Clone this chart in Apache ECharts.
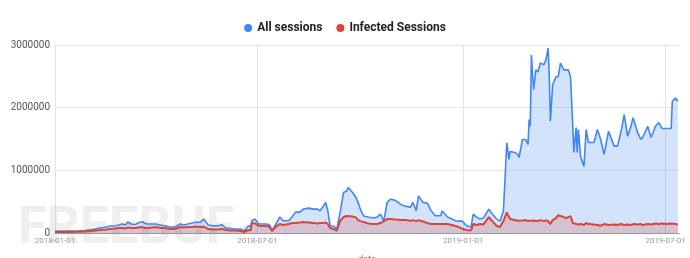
<!DOCTYPE html>
<html>
<head>
<meta charset="utf-8">
<script src="https://cdn.jsdelivr.net/npm/echarts@6/dist/echarts.min.js"></script>
<style>
html,body{margin:0;padding:0;background:#fff;}
#chart{width:690px;height:258px;}
</style>
</head>
<body>
<div id="chart"></div>
<script>
const dates = [
'2018-01-01','2018-01-07','2018-01-14','2018-01-22','2018-01-28','2018-02-03','2018-02-10','2018-02-16','2018-02-19','2018-02-24',
'2018-02-27','2018-03-02','2018-03-05','2018-03-07','2018-03-10','2018-03-14','2018-03-16','2018-03-20','2018-03-23','2018-03-25',
'2018-03-29','2018-04-01','2018-04-05','2018-04-09','2018-04-14','2018-04-18','2018-04-23','2018-04-26','2018-04-30','2018-05-04',
'2018-05-06','2018-05-11','2018-05-14','2018-05-18','2018-05-22','2018-05-27','2018-05-30','2018-06-03','2018-06-07','2018-06-11',
'2018-06-16','2018-06-19','2018-06-23','2018-06-25','2018-06-26','2018-06-29','2018-07-02','2018-07-05','2018-07-09','2018-07-12',
'2018-07-14','2018-07-18','2018-07-21','2018-07-24','2018-07-29','2018-08-01','2018-08-04','2018-08-08','2018-08-11','2018-08-16',
'2018-08-20','2018-08-24','2018-08-26','2018-08-29','2018-08-31','2018-09-02','2018-09-04','2018-09-07','2018-09-10','2018-09-13',
'2018-09-16','2018-09-19','2018-09-20','2018-09-24','2018-09-27','2018-09-29','2018-10-01','2018-10-04','2018-10-08','2018-10-13',
'2018-10-16','2018-10-19','2018-10-22','2018-10-25','2018-10-28','2018-11-01','2018-11-06','2018-11-10','2018-11-15','2018-11-17',
'2018-11-20','2018-11-22','2018-11-26','2018-11-30','2018-12-03','2018-12-07','2018-12-12','2018-12-13','2018-12-18','2018-12-22',
'2018-12-25','2018-12-28','2018-12-30','2019-01-01','2019-01-04','2019-01-08','2019-01-10','2019-01-13','2019-01-16','2019-01-19',
'2019-01-24','2019-01-27','2019-01-31','2019-02-03','2019-02-06','2019-02-09','2019-02-11','2019-02-12','2019-02-16','2019-02-19',
'2019-02-20','2019-02-23','2019-02-26','2019-02-28','2019-03-01','2019-03-02','2019-03-03','2019-03-05','2019-03-07','2019-03-09',
'2019-03-11','2019-03-14','2019-03-16','2019-03-18','2019-03-19','2019-03-20','2019-03-22','2019-03-25','2019-03-27','2019-03-29',
'2019-04-01','2019-04-03','2019-04-05','2019-04-07','2019-04-09','2019-04-10','2019-04-12','2019-04-13','2019-04-14','2019-04-16',
'2019-04-19','2019-04-21','2019-04-23','2019-04-28','2019-05-01','2019-05-04','2019-05-07','2019-05-11','2019-05-16','2019-05-19',
'2019-05-22','2019-05-25','2019-05-28','2019-05-31','2019-06-02','2019-06-06','2019-06-09','2019-06-11','2019-06-15','2019-06-18',
'2019-06-22','2019-06-25','2019-06-28','2019-07-02','2019-07-06','2019-07-07','2019-07-10','2019-07-12'
];
const allSessions = [
32000,32000,32000,35000,40000,56000,79000,95000,111000,116000,
127000,143000,127000,175000,143000,135000,159000,179000,151000,143000,
143000,143000,127000,116000,95000,95000,143000,127000,143000,159000,
170000,175000,222000,127000,116000,116000,132000,79000,71000,63000,
63000,37000,116000,95000,195000,222000,143000,143000,143000,127000,
37000,159000,254000,195000,195000,254000,333000,333000,381000,397000,
381000,381000,354000,429000,487000,354000,116000,111000,63000,333000,
646000,671000,725000,651000,571000,492000,381000,270000,254000,238000,
254000,302000,195000,487000,540000,524000,460000,429000,413000,492000,
354000,592000,492000,476000,365000,275000,275000,354000,254000,222000,
195000,190000,195000,175000,116000,95000,302000,254000,222000,238000,
381000,302000,222000,190000,354000,1440000,1175000,1302000,1286000,1254000,
1206000,1492000,1492000,1413000,1810000,1703000,2841000,2286000,2603000,2571000,
2714000,2683000,2762000,2948000,2497000,1783000,2365000,2492000,2497000,2710000,
2603000,2603000,2603000,2497000,1703000,1286000,1683000,1286000,1651000,1222000,
1063000,1651000,1444000,1444000,1651000,1492000,1254000,1624000,1386000,1386000,
1603000,1889000,1544000,1703000,1841000,1603000,1492000,1540000,1703000,1524000,
1703000,1762000,1667000,1667000,1667000,2100000,2154000,2100000
];
const infectedSessions = [
16000,16000,16000,19000,24000,32000,48000,56000,63000,71000,
79000,79000,71000,87000,79000,79000,87000,95000,79000,79000,
87000,95000,79000,79000,63000,63000,95000,87000,95000,95000,
103000,95000,100000,63000,56000,56000,63000,48000,40000,40000,
32000,16000,48000,40000,159000,151000,116000,111000,111000,95000,
32000,111000,143000,127000,143000,159000,159000,167000,175000,167000,
159000,151000,159000,159000,167000,143000,79000,63000,37000,195000,
254000,270000,275000,262000,249000,206000,190000,175000,151000,143000,
143000,159000,190000,222000,222000,214000,206000,206000,195000,206000,
190000,206000,183000,159000,143000,143000,143000,151000,143000,127000,
111000,95000,79000,63000,48000,40000,143000,127000,143000,135000,
254000,190000,111000,95000,190000,329000,254000,222000,206000,195000,
190000,198000,206000,190000,195000,195000,206000,198000,190000,195000,
206000,190000,198000,190000,183000,143000,206000,238000,286000,270000,
254000,238000,254000,270000,159000,143000,143000,127000,135000,143000,
127000,159000,143000,135000,127000,116000,143000,127000,135000,127000,
143000,127000,135000,127000,143000,135000,143000,127000,143000,135000,
151000,143000,151000,143000,151000,143000,143000,135000
];
const yTicks = [0, 1000000, 2000000, 3000000];
const xTickLabels = ['2018-01-01', '2018-07-01', '2019-01-01', '2019-07-01'];
const seriesNames = ['All sessions', 'Infected Sessions'];

const chart = echarts.init(document.getElementById('chart'), null, {renderer: 'canvas'});
const toTs = s => echarts.number.parseDate(s).getTime();
const xTickTs = xTickLabels.map(toTs);

chart.setOption({
  animation: false,
  backgroundColor: '#ffffff',
  textStyle: {fontFamily: 'Roboto, Arial, sans-serif'},
  legend: {
    data: seriesNames,
    top: 17,
    left: 'center',
    icon: 'circle',
    itemWidth: 8,
    itemHeight: 8,
    itemGap: 14,
    textStyle: {fontSize: 12, fontWeight: 'bold', color: '#222', fontFamily: 'Roboto, Arial, sans-serif'}
  },
  graphic: [{
    type: 'text',
    left: 18,
    top: 204,
    silent: true,
    z: 100,
    style: {text: 'FREEBUF', fontSize: 52, fontWeight: 'bold', fontFamily: 'Roboto, Arial, sans-serif', fill: 'rgba(120,120,120,0.12)'}
  }],
  grid: {left: 55, right: 11, top: 45, bottom: 25, containLabel: false, outerBoundsMode: 'none'},
  xAxis: {
    type: 'time',
    name: 'date',
    nameLocation: 'middle',
    nameGap: 22,
    nameTextStyle: {fontSize: 9, color: '#777'},
    min: toTs('2018-01-01'),
    max: toTs('2019-07-13'),
    axisLine: {show: true, lineStyle: {color: '#999', width: 1}},
    axisTick: {show: false, customValues: xTickTs},
    axisLabel: {
      customValues: xTickTs,
      formatter: '{yyyy}-{MM}-{dd}',
      fontSize: 8,
      color: '#999',
      margin: 4,
      hideOverlap: false,
      showMinLabel: true,
      showMaxLabel: true
    },
    splitLine: {show: true, lineStyle: {color: '#e3e3e3', width: 1}}
  },
  yAxis: {
    type: 'value',
    min: yTicks[0],
    max: yTicks[yTicks.length - 1],
    interval: yTicks[1] - yTicks[0],
    axisLine: {show: true, lineStyle: {color: '#e3e3e3'}},
    axisTick: {show: false},
    axisLabel: {fontSize: 10, color: '#555', margin: 5, formatter: v => String(v)},
    splitLine: {show: true, lineStyle: {color: '#e8e8e8', width: 1}}
  },
  series: [
    {
      name: seriesNames[0],
      type: 'line',
      data: dates.map((d, i) => [d, allSessions[i]]),
      showSymbol: false,
      symbol: 'circle',
      color: '#4285F4',
      lineStyle: {width: 1.6, color: '#4285F4'},
      areaStyle: {color: 'rgba(66,133,244,0.33)'},
      z: 2
    },
    {
      name: seriesNames[1],
      type: 'line',
      data: dates.map((d, i) => [d, infectedSessions[i]]),
      showSymbol: false,
      symbol: 'circle',
      color: '#DB4437',
      lineStyle: {width: 2, color: '#DB4437'},
      areaStyle: {color: 'rgba(219,68,55,0.3)'},
      z: 3
    }
  ]
});
</script>
</body>
</html>
